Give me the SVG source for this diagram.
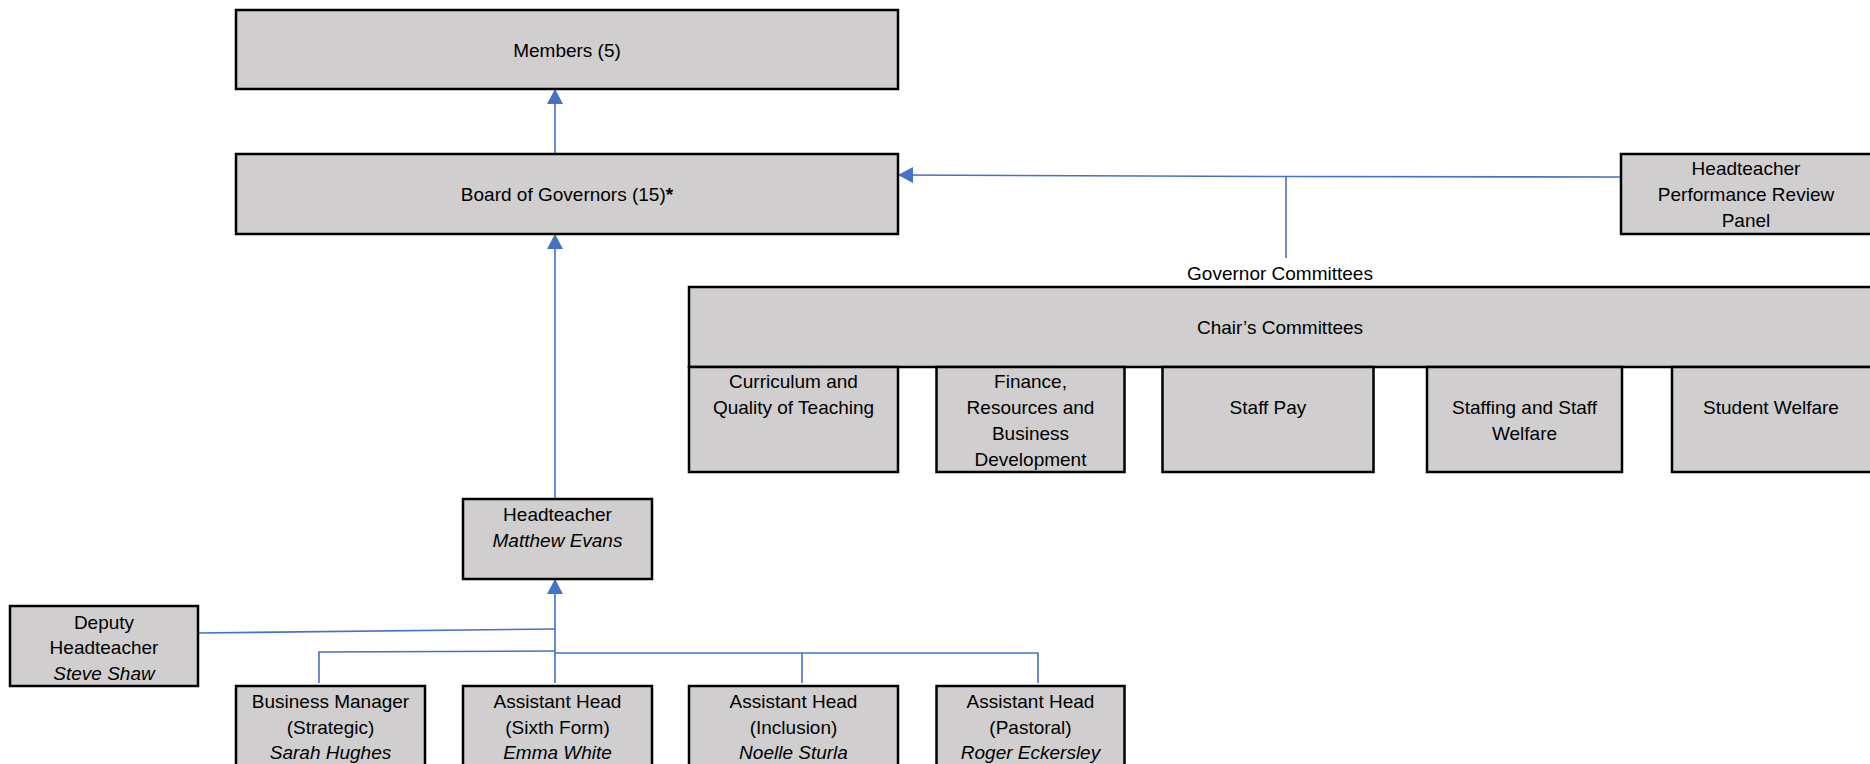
<svg xmlns="http://www.w3.org/2000/svg" width="1870" height="764" viewBox="0 0 1870 764">
<style>
.box{fill:#D0CECE;stroke:#000;stroke-width:2.5}
text{font-family:"Liberation Sans",Arial,sans-serif;font-size:19px;fill:#000;text-anchor:middle}
.i{font-style:italic}
.c{fill:none;stroke:#4472C4;stroke-width:1.6}
</style>
<defs>
<marker id="ah" markerUnits="userSpaceOnUse" markerWidth="16" markerHeight="16" refX="15" refY="8" orient="auto">
<path d="M0,0 L15,8 L0,16 Z" fill="#4472C4"/>
</marker>
</defs>
<rect width="1870" height="764" fill="#fff"/>
<g id="connectors">
<line class="c" x1="555" y1="154" x2="555" y2="89" marker-end="url(#ah)"/>
<line class="c" x1="555" y1="498" x2="555" y2="234" marker-end="url(#ah)"/>
<polyline class="c" points="1621,177 1286,176.5 898,175" marker-end="url(#ah)"/>
<line class="c" x1="1286" y1="176.5" x2="1286" y2="258"/>
<line class="c" x1="555" y1="683" x2="555" y2="579" marker-end="url(#ah)"/>
<line class="c" x1="198" y1="633" x2="555" y2="629"/>
<polyline class="c" points="319,683 319,652 555,651"/>
<polyline class="c" points="555,653 1038,653 1038,683"/>
<line class="c" x1="802" y1="653" x2="802" y2="683"/>
</g>
<g id="members"><rect class="box" x="236" y="10" width="662" height="79"/><text x="567" y="57">Members (5)</text></g>
<g id="board"><rect class="box" x="236" y="154" width="662" height="80"/><text x="567" y="201">Board of Governors (15)<tspan font-weight="bold">*</tspan></text></g>
<g id="hpr"><rect class="box" x="1621" y="154" width="252" height="80"/><text x="1746" y="175">Headteacher</text><text x="1746" y="201">Performance Review</text><text x="1746" y="227">Panel</text></g>
<g id="governor-committees-label"><text x="1280" y="280">Governor Committees</text></g>
<g id="chairs"><rect class="box" x="689" y="287" width="1184" height="80"/><text x="1280" y="334">Chair’s Committees</text></g>
<g id="curriculum"><rect class="box" x="689" y="367" width="209" height="105"/><text x="793.5" y="388">Curriculum and</text><text x="793.5" y="414">Quality of Teaching</text></g>
<g id="finance"><rect class="box" x="936.5" y="367" width="188" height="105"/><text x="1030.5" y="388">Finance,</text><text x="1030.5" y="414">Resources and</text><text x="1030.5" y="440">Business</text><text x="1030.5" y="466">Development</text></g>
<g id="staffpay"><rect class="box" x="1162.5" y="367" width="211" height="105"/><text x="1268" y="414">Staff Pay</text></g>
<g id="staffing"><rect class="box" x="1427" y="367" width="195" height="105"/><text x="1524.5" y="414">Staffing and Staff</text><text x="1524.5" y="440">Welfare</text></g>
<g id="welfare"><rect class="box" x="1672" y="367" width="201" height="105"/><text x="1771" y="414">Student Welfare</text></g>
<g id="headteacher"><rect class="box" x="463" y="499" width="189" height="80"/><text x="557.5" y="521">Headteacher</text><text class="i" x="557.5" y="547">Matthew Evans</text></g>
<g id="deputy"><rect class="box" x="10" y="606" width="188" height="80"/><text x="104" y="629">Deputy</text><text x="104" y="654">Headteacher</text><text class="i" x="104" y="680">Steve Shaw</text></g>
<g id="business"><rect class="box" x="236" y="686" width="189" height="90"/><text x="330.5" y="708">Business Manager</text><text x="330.5" y="734">(Strategic)</text><text class="i" x="330.5" y="759">Sarah Hughes</text></g>
<g id="sixth"><rect class="box" x="463" y="686" width="189" height="90"/><text x="557.5" y="708">Assistant Head</text><text x="557.5" y="734">(Sixth Form)</text><text class="i" x="557.5" y="759">Emma White</text></g>
<g id="inclusion"><rect class="box" x="689" y="686" width="209" height="90"/><text x="793.5" y="708">Assistant Head</text><text x="793.5" y="734">(Inclusion)</text><text class="i" x="793.5" y="759">Noelle Sturla</text></g>
<g id="pastoral"><rect class="box" x="936.5" y="686" width="188" height="90"/><text x="1030.5" y="708">Assistant Head</text><text x="1030.5" y="734">(Pastoral)</text><text class="i" x="1030.5" y="759">Roger Eckersley</text></g>
</svg>
